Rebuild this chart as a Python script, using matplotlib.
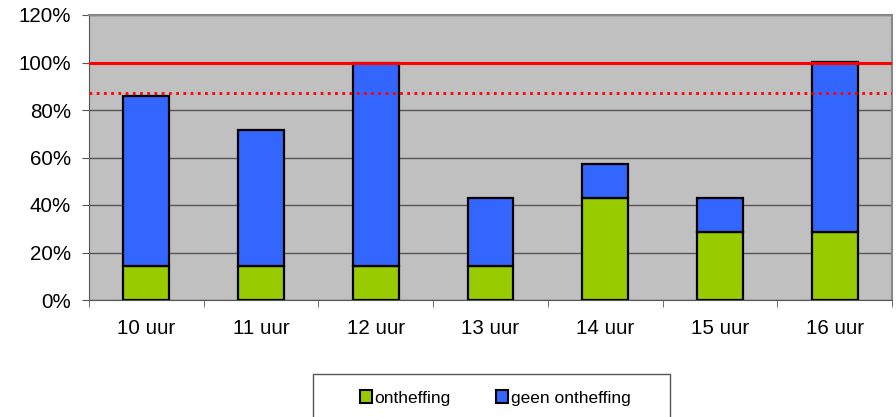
import numpy as np
import matplotlib.pyplot as plt
from matplotlib.patches import Rectangle
from matplotlib.ticker import FuncFormatter

plt.rcParams['font.family'] = ['Liberation Sans', 'DejaVu Sans']

# data (percent)
categories = ['10 uur', '11 uur', '12 uur', '13 uur', '14 uur', '15 uur', '16 uur']
ontheffing = [14.3, 14.3, 14.3, 14.3, 42.9, 28.6, 28.6]
geen_ontheffing = [71.4, 57.1, 85.7, 28.6, 14.3, 14.3, 71.4]
norm_line = 100
dotted_line = 87

fig = plt.figure(figsize=(8.96, 4.17), dpi=100)
ax = fig.add_axes([89/896, 1 - 300/417, (892 - 89)/896, (300 - 15)/417])
ax.set_facecolor('#C0C0C0')

x = np.arange(len(categories))
ax.bar(x, ontheffing, width=0.4, color='#99CC00', edgecolor='black', linewidth=1.6,
       label='ontheffing', zorder=3)
ax.bar(x, geen_ontheffing, width=0.4, bottom=ontheffing, color='#3366FF',
       edgecolor='black', linewidth=1.6, label='geen ontheffing', zorder=3)

ax.axhline(norm_line, color='#FF0000', linewidth=2.2, zorder=4)
ax.axhline(dotted_line, color='#FF0000', linewidth=2, linestyle=(0, (1, 1.6)), zorder=4)

ax.set_xlim(-0.5, len(categories) - 0.5)
ax.set_ylim(0, 120)
ax.set_yticks(np.arange(0, 121, 20))
ax.yaxis.set_major_formatter(FuncFormatter(lambda v, p: f'{v:.0f}%'))
ax.grid(axis='y', color='#555555', linewidth=1, zorder=1)
ax.set_axisbelow(True)

ax.set_xticks(x)
ax.set_xticklabels(categories)
ax.set_xticks(np.arange(-0.5, len(categories)), minor=True)
ax.tick_params(axis='x', which='major', length=0, pad=14, labelsize=14.8)
ax.tick_params(axis='x', which='minor', length=5, color='#555555', direction='out')
ax.tick_params(axis='y', length=5, color='#555555', pad=8, labelsize=14.8)

for side in ['left', 'bottom']:
    ax.spines[side].set_color('#555555')
for side in ['top', 'right']:
    ax.spines[side].set_color('#888888')
    ax.spines[side].set_linewidth(1.5)

# legend box (bottom edge runs off the image)
fig.patches.append(Rectangle((313/896, -0.05), 357/896, 1 - 374/417 + 0.05,
                             transform=fig.transFigure, facecolor='white',
                             edgecolor='#555555', linewidth=1))
leg = fig.legend(loc='center', bbox_to_anchor=(495/896, 1 - 398/417),
                 ncol=2, frameon=False, handlelength=0.7, handleheight=0.7,
                 handletextpad=0.15, columnspacing=2.6, borderpad=0, fontsize=12.5)
for h in leg.legend_handles:
    h.set_linewidth(1.5)

fig.savefig('out.png', dpi=100)
